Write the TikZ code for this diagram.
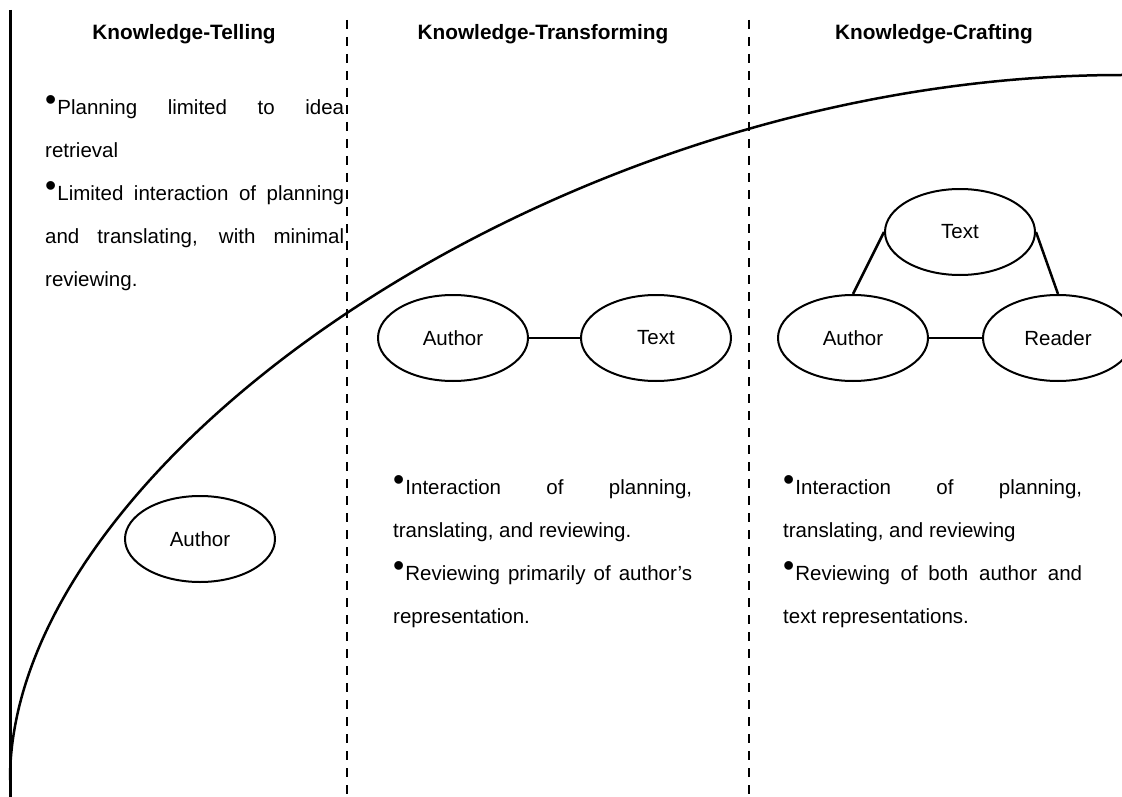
\documentclass[tikz,border=0pt]{standalone}
\usepackage{fontspec}
\setmainfont{Liberation Sans}
\usepackage{tikz}
\usetikzlibrary{positioning,shapes.geometric}
\hyphenpenalty=10000
\tolerance=10000
\newcommand{\itemdot}{\raisebox{4pt}{\fontsize{32}{32}\selectfont•}\hspace{1pt}}
\tikzset{
    role/.style={draw, ellipse, line width=2pt, minimum width=150pt, minimum height=86pt, inner sep=0pt, font=\fontsize{20.5}{24}\selectfont},
    head/.style={font=\bfseries\fontsize{20.8}{24}\selectfont},
    notes/.style={anchor=north west, text width=299pt, align=justify, inner sep=0pt, font=\fontsize{20.5}{43}\selectfont},
    divider/.style={line width=2.5pt, dash pattern=on 9pt off 8pt},
    link/.style={line width=2.5pt}
}

\begin{document}
\begin{tikzpicture}[x=1pt,y=-1pt]
    \useasboundingbox (0,0) rectangle (1122,797);
    \draw[line width=3pt] (10,10) -- (10,797);
    \draw[divider] (347,20) -- (347,797);
    \draw[divider] (749,20) -- (749,797);
    \draw[line width=2.5pt] (10,780) .. controls (10,460) and (560,75) .. (1122,75);

    \node[head] (telling) at (184,34) {Knowledge-Telling};
    \node[head] (transforming) at (543,34) {Knowledge-Transforming};
    \node[head] (crafting) at (934,34) {Knowledge-Crafting};

    \node[notes] (tellnotes) at (45,95) {\leavevmode\itemdot Planning limited to idea\linebreak retrieval\\ \itemdot Limited interaction of planning\linebreak and translating, with minimal\linebreak reviewing.};
    \node[notes] (transnotes) at (393,475) {\leavevmode\itemdot Interaction of planning,\linebreak translating, and reviewing.\\ \itemdot Reviewing primarily of author's\linebreak representation.};
    \node[notes] (craftnotes) at (783,475) {\leavevmode\itemdot Interaction of planning,\linebreak translating, and reviewing\\ \itemdot Reviewing of both author and\linebreak text representations.};

    \node[role] (author1) at (200,539) {Author};

    \node[role] (author2) at (453,338) {Author};
    \node[role, right=51pt of author2] (text2) {Text};
    \draw[link] (author2) -- (text2);

    \node[role] (author3) at (853,338) {Author};
    \node[role, right=53pt of author3] (reader3) {Reader};
    \node[role] (text3) at (960,232) {Text};
    \draw[link] (author3) -- (reader3);
    \draw[link] (text3.west) -- (author3.north);
    \draw[link] (text3.east) -- (reader3.north);
\end{tikzpicture}
\end{document}
